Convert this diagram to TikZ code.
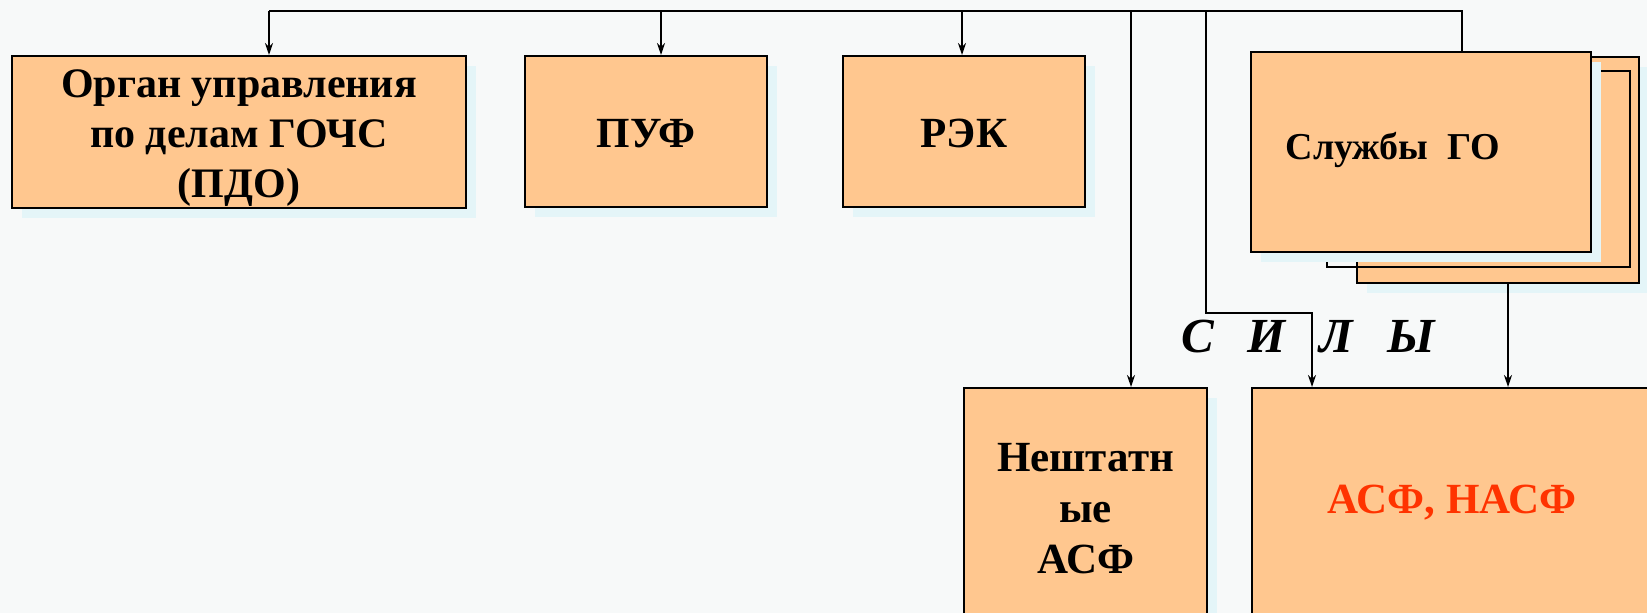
\documentclass[tikz,border=0pt]{standalone}
\usepackage{fontspec}
\setmainfont{Liberation Serif}
\usetikzlibrary{arrows.meta, shadows}
\definecolor{peach}{RGB}{255,199,143}
\definecolor{asfred}{RGB}{255,51,0}
\definecolor{paper}{RGB}{247,249,249}
\definecolor{glow}{RGB}{228,245,248}
\tikzset{
box/.style={draw, line width=2pt, fill=peach, inner sep=0pt, align=center,
  font=\fontsize{43}{51}\selectfont\bfseries,
  drop shadow={fill=glow, opacity=1, shadow xshift=10pt, shadow yshift=-10pt}}, % boxes of the scheme
frame/.style={draw, line width=2pt, inner sep=0pt}, % middle sheet of the stack
wire/.style={line width=1.8pt}, % bus without arrow
link/.style={line width=1.8pt, -{Stealth[length=12pt, width=8pt]}}, % bus with arrow
}

\begin{document}
\begin{tikzpicture}[x=1pt, y=-1pt]
    \fill[paper] (0,0) rectangle (1647,613);
    \useasboundingbox (0,0) rectangle (1647,613);
    \clip (0,0) rectangle (1647,613);

    \node[box, minimum width=454pt, minimum height=152pt, font=\fontsize{42}{50}\selectfont\bfseries,
          text height=130pt, text depth=0pt] (ogan) at (239,132) {Орган управления\\по делам ГОЧС\\(ПДО)};
    \node[box, minimum width=242pt, minimum height=151pt, text height=31pt, text depth=0pt] (puf) at (646,131.5) {ПУФ};
    \node[box, minimum width=242pt, minimum height=151pt, text height=31pt, text depth=0pt] (rek) at (964,131.5) {РЭК};

    \node[box, minimum width=282pt, minimum height=226pt] (sgo3) at (1498,170) {};
    \node[frame, minimum width=303pt, minimum height=196pt] (sgo2) at (1478.5,169) {};
    \node[box, minimum width=340pt, minimum height=200pt, drop shadow={opacity=0}] (sgo) at (1421,152) {};
    \node[font=\fontsize{38}{46}\selectfont\bfseries, anchor=base] (sgotext) at (1393,159) {Службы\ \ ГО};

    \node[box, minimum width=243pt, minimum height=242pt] (neshtat) at (1085.5,509) {Нештатн\\ые\\АСФ};
    \node[box, minimum width=400pt, minimum height=230pt, text=asfred] (asf) at (1452,503) {АСФ, НАСФ};

    \node[font=\fontsize{49}{52}\selectfont\bfseries\itshape, anchor=base] (sily) at (1308,352) {С\hspace{34pt}И\hspace{34pt}Л\hspace{34pt}Ы};

    \coordinate (b1) at (269,11);
    \coordinate (b2) at (661,11);
    \coordinate (b3) at (962,11);
    \coordinate (b4) at (1131,11);
    \coordinate (b5) at (1206,11);
    \coordinate (b6) at (1462,11);
    \coordinate (turn) at (1312,313);

    \draw[wire] (b1) -- (b6) -- (b6 |- sgo.north);
    \draw[link] (b1) -- (b1 |- ogan.north);
    \draw[link] (b2) -- (b2 |- puf.north);
    \draw[link] (b3) -- (b3 |- rek.north);
    \draw[link] (b4) -- (b4 |- neshtat.north);
    \draw[link] (b5) |- (turn) -- (turn |- asf.north);
    \draw[link] ([xshift=10pt]sgo3.south) -- ([xshift=10pt]sgo3.south |- asf.north);

\end{tikzpicture}
\end{document}
